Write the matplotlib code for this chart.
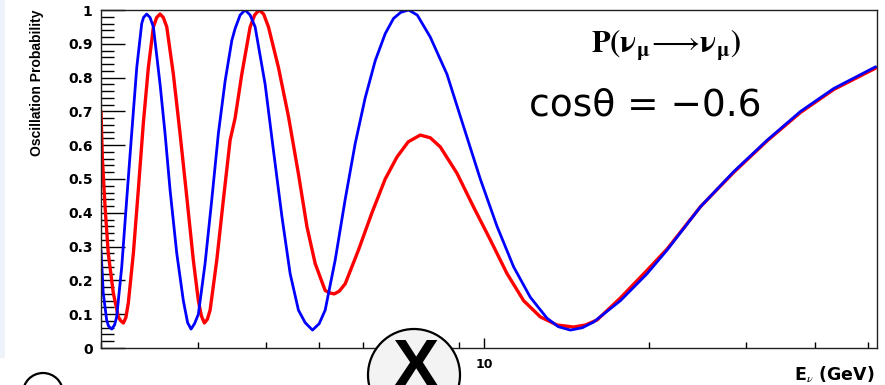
import matplotlib
matplotlib.use("Agg")
import matplotlib.pyplot as plt
from matplotlib.patches import Ellipse, Rectangle
import numpy as np

plt.rcParams['mathtext.fontset'] = 'stix'

# ---- data ----
blue_E = [2.000, 2.019, 2.048, 2.064, 2.092, 2.117, 2.136, 2.182, 2.228, 2.275, 2.324,
          2.373, 2.391, 2.423, 2.457, 2.492, 2.563, 2.617, 2.673, 2.749, 2.826, 2.877,
          2.919, 2.962, 3.010, 3.096, 3.185, 3.274, 3.368, 3.464, 3.512, 3.587, 3.663,
          3.741, 3.820, 3.984, 4.125, 4.274, 4.425, 4.582, 4.713, 4.860, 4.999, 5.126,
          5.346, 5.576, 5.815, 6.064, 6.325, 6.596, 6.830, 7.040, 7.275, 7.546, 7.969,
          8.548, 9.166, 9.832, 10.547, 11.309, 12.131, 13.013, 13.644, 14.351, 15.093,
          15.827, 17.706, 19.807, 21.544, 24.782, 28.503, 32.794, 37.722, 43.386, 51.694]
blue_P = [0.29, 0.163, 0.083, 0.065, 0.056, 0.068, 0.092, 0.24, 0.44, 0.635, 0.83,
          0.96, 0.978, 0.988, 0.978, 0.95, 0.78, 0.635, 0.467, 0.28, 0.14, 0.075,
          0.056, 0.072, 0.10, 0.25, 0.44, 0.635, 0.79, 0.91, 0.945, 0.985, 1.0,
          0.985, 0.95, 0.78, 0.585, 0.39, 0.22, 0.112, 0.075, 0.053, 0.072, 0.112,
          0.26, 0.44, 0.605, 0.74, 0.85, 0.93, 0.975, 0.993, 1.0, 0.985, 0.92,
          0.81, 0.655, 0.50, 0.36, 0.24, 0.15, 0.088, 0.063, 0.053, 0.060,
          0.077, 0.14, 0.22, 0.29, 0.418, 0.522, 0.615, 0.70, 0.768, 0.832]

red_E = [2.000, 2.011, 2.034, 2.062, 2.106, 2.151, 2.174, 2.197, 2.220, 2.243, 2.291,
         2.339, 2.389, 2.440, 2.492, 2.527, 2.563, 2.598, 2.636, 2.710, 2.787, 2.867,
         2.947, 3.010, 3.048, 3.087, 3.126, 3.162, 3.252, 3.344, 3.439, 3.512, 3.612,
         3.741, 3.812, 3.885, 3.959, 4.040, 4.213, 4.394, 4.582, 4.747, 4.915, 5.126,
         5.224, 5.324, 5.437, 5.576, 5.896, 6.238, 6.596, 6.929, 7.265, 7.641, 7.969,
         8.311, 8.915, 9.559, 10.254, 11.000, 11.794, 12.651, 13.570, 14.552, 15.285,
         16.055, 17.706, 19.807, 21.544, 24.782, 28.503, 32.794, 37.722, 43.386, 51.694]
red_P = [0.70, 0.565, 0.42, 0.28, 0.163, 0.092, 0.080, 0.074, 0.090, 0.133, 0.28,
         0.467, 0.665, 0.83, 0.95, 0.978, 0.988, 0.978, 0.95, 0.81, 0.635, 0.447,
         0.26, 0.14, 0.095, 0.074, 0.085, 0.112, 0.26, 0.44, 0.615, 0.68, 0.81,
         0.95, 0.985, 1.0, 0.988, 0.95, 0.83, 0.685, 0.515, 0.36, 0.25, 0.17,
         0.163, 0.16, 0.168, 0.19, 0.29, 0.40, 0.50, 0.565, 0.61, 0.63, 0.622,
         0.595, 0.517, 0.417, 0.32, 0.22, 0.14, 0.092, 0.068, 0.062, 0.068,
         0.083, 0.148, 0.23, 0.293, 0.418, 0.52, 0.613, 0.697, 0.765, 0.828]

y_ticks = [0, 0.1, 0.2, 0.3, 0.4, 0.5, 0.6, 0.7, 0.8, 0.9, 1.0]
y_ticklabels = ['0', '0.1', '0.2', '0.3', '0.4', '0.5', '0.6', '0.7', '0.8', '0.9', '1']
x_minor_ticks = [2, 3, 4, 5, 6, 7, 8, 9, 20, 30, 40, 50]
x_major_ticks = [10]
x_ticklabels = ['10']

W, H = 885, 385
fig = plt.figure(figsize=(W / 100, H / 100), dpi=100)
fig.patch.set_facecolor('white')

# pale strip at the left edge (slide background)
fig.patches.append(Rectangle((0, 1 - 358 / H), 5 / W, 358 / H, transform=fig.transFigure,
                             facecolor='#eef3fa', edgecolor='none', zorder=0))

ax = fig.add_axes([101 / W, 1 - 348 / H, 776 / W, 338 / H])
ax.plot(red_E, red_P, color='#ff0000', lw=2.4, solid_joinstyle='round', solid_capstyle='round')
ax.plot(blue_E, blue_P, color='#0000ff', lw=2.0, solid_joinstyle='round', solid_capstyle='round')

ax.set_xscale('log')
ax.set_xlim(2, 52)
ax.set_ylim(0, 1.0)

for s in ax.spines.values():
    s.set_linewidth(1.0)
    s.set_color('#222222')

tick_font = dict(fontfamily='DejaVu Sans', fontweight='bold', fontsize=10)
ax.set_yticks(y_ticks)
ax.set_yticklabels(y_ticklabels, **tick_font)
ax.set_yticks(np.arange(0, 1.001, 0.02), minor=True)
ax.tick_params(axis='y', which='major', direction='in', length=17, width=1, pad=6, right=False)
ax.tick_params(axis='y', which='minor', direction='in', length=9, width=1, right=False)

ax.xaxis.set_major_locator(matplotlib.ticker.FixedLocator(x_major_ticks))
ax.xaxis.set_minor_locator(matplotlib.ticker.FixedLocator(x_minor_ticks))
ax.set_xticklabels(x_ticklabels, fontfamily='DejaVu Sans', fontweight='bold', fontsize=9)
ax.xaxis.set_minor_formatter(matplotlib.ticker.NullFormatter())
ax.tick_params(axis='x', which='major', direction='in', length=7.5, width=1, pad=7, top=False)
ax.tick_params(axis='x', which='minor', direction='in', length=4, width=1, top=False)

# y label
fig.text(37 / W, 1 - 10 / H, 'Oscillation Probability', rotation=90, ha='center', va='top',
         fontsize=10, fontfamily=['Liberation Sans Narrow', 'Liberation Sans'], fontweight='bold')

# x label
fig.text(875 / W, 1 - 375 / H, r'E$_{\nu}$ (GeV)', ha='right', va='center',
         fontsize=12.5, fontfamily='DejaVu Sans', fontweight='bold')

# title
fig.text(666 / W, 1 - 45 / H,
         r'$\mathbf{P(\nu}_{\mathbf{\mu}}\!\longrightarrow\!\mathbf{\nu}_{\mathbf{\mu}}\mathbf{)}$',
         ha='center', va='center', fontsize=22)

fig.text(645 / W, 1 - 106 / H, 'cos\u03b8 = \u22120.6', ha='center', va='center',
         fontsize=27, fontfamily='DejaVu Sans')

# overlay circles
c1 = Ellipse((414 / W, 1 - 375 / H), 92 / W, 92 / H, transform=fig.transFigure,
             facecolor='#f3f3f3', edgecolor='black', lw=1.6, zorder=5)
fig.patches.append(c1)
fig.text(416 / W, 1 - 369 / H, 'X', ha='center', va='center', fontsize=50,
         fontfamily='Liberation Sans', fontweight='bold', zorder=6)
c2 = Ellipse((43 / W, 1 - 393 / H), 40 / W, 40 / H, transform=fig.transFigure,
             facecolor='white', edgecolor='black', lw=1.6, zorder=5)
fig.patches.append(c2)

fig.savefig('out.png', dpi=100)
